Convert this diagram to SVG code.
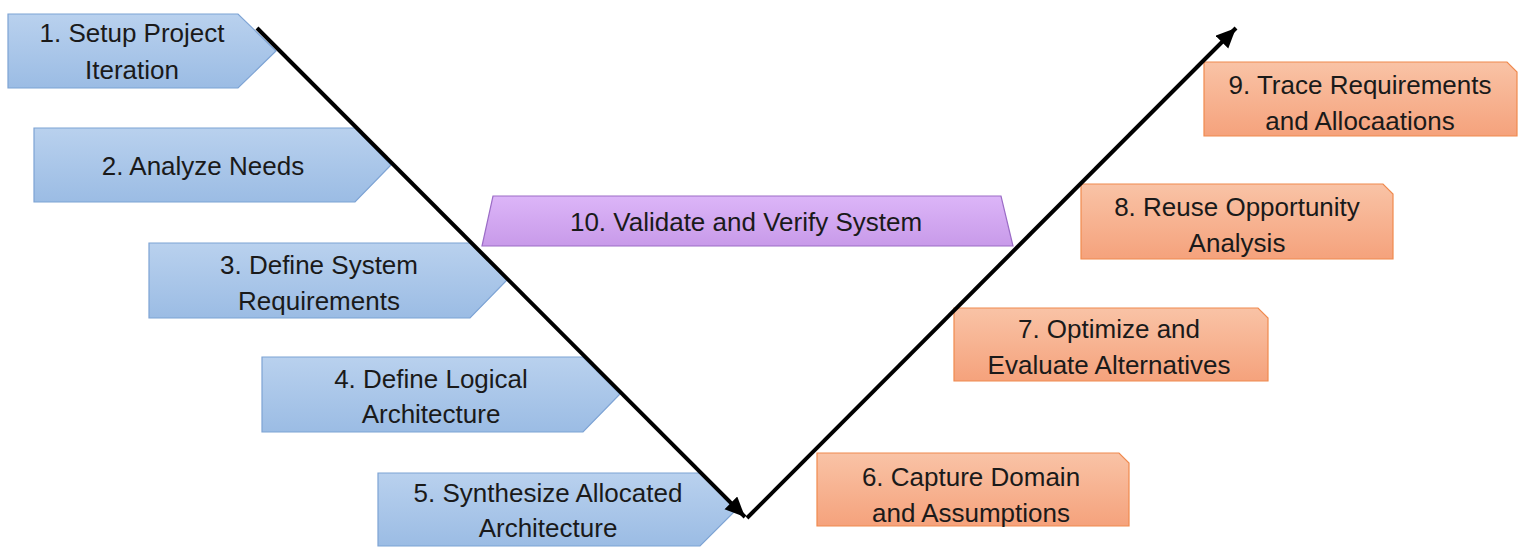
<svg xmlns="http://www.w3.org/2000/svg" width="1522" height="548" viewBox="0 0 1522 548">
  <defs>
    <linearGradient id="gBlue" x1="0" y1="0" x2="0" y2="1">
      <stop offset="0" stop-color="#b9d1ee"/>
      <stop offset="1" stop-color="#9bbce4"/>
    </linearGradient>
    <linearGradient id="gOrange" x1="0" y1="0" x2="0" y2="1">
      <stop offset="0" stop-color="#f9c3a6"/>
      <stop offset="1" stop-color="#f5a27c"/>
    </linearGradient>
    <linearGradient id="gPurple" x1="0" y1="0" x2="0" y2="1">
      <stop offset="0" stop-color="#dcb5f8"/>
      <stop offset="1" stop-color="#c89ae9"/>
    </linearGradient>
    <marker id="arrow" markerUnits="userSpaceOnUse" markerWidth="24" markerHeight="20" refX="20" refY="9" orient="auto">
      <path d="M0,0 L20,9 L0,18 Z" fill="#000"/>
    </marker>
  </defs>
  <style>
    .blue { fill: url(#gBlue); stroke: #7da3d4; stroke-width: 1.2; }
    .orange { fill: url(#gOrange); stroke: #f08a4e; stroke-width: 1.2; }
    .purple { fill: url(#gPurple); stroke: #9b6cc6; stroke-width: 1.2; }
    .lbl { font-family: "Liberation Sans", Arial, sans-serif; font-size: 26px; fill: #1a1a1a; text-anchor: middle; }
    .conn { fill: none; stroke: #000; stroke-width: 4; }
  </style>

  <rect width="1522" height="548" fill="#fff"/>

  <!-- left branch: decomposition steps -->
  <g id="n1">
    <path class="blue" d="M8,14 H238 L276,51 L238,88 H8 Z"/>
    <text class="lbl" x="132" y="42">1. Setup Project</text>
    <text class="lbl" x="132" y="79">Iteration</text>
  </g>
  <g id="n2">
    <path class="blue" d="M34,128 H355 L391,165 L355,202 H34 Z"/>
    <text class="lbl" x="203" y="175">2. Analyze Needs</text>
  </g>
  <g id="n3">
    <path class="blue" d="M149,243 H470 L507,280 L470,318 H149 Z"/>
    <text class="lbl" x="319" y="274">3. Define System</text>
    <text class="lbl" x="319" y="310">Requirements</text>
  </g>
  <g id="n4">
    <path class="blue" d="M262,357 H583 L620,394 L583,432 H262 Z"/>
    <text class="lbl" x="431" y="388">4. Define Logical</text>
    <text class="lbl" x="431" y="423">Architecture</text>
  </g>
  <g id="n5">
    <path class="blue" d="M378,473 H700 L737,509 L700,546 H378 Z"/>
    <text class="lbl" x="548" y="502">5. Synthesize Allocated</text>
    <text class="lbl" x="548" y="537">Architecture</text>
  </g>

  <!-- validation bar -->
  <g id="n10">
    <path class="purple" d="M493,196 H1001 L1013,246 H482 Z"/>
    <text class="lbl" x="746" y="231">10. Validate and Verify System</text>
  </g>

  <!-- right branch: integration steps -->
  <g id="n6">
    <path class="orange" d="M817,453 H1119 L1129,463 V526 H817 Z"/>
    <text class="lbl" x="971" y="486">6. Capture Domain</text>
    <text class="lbl" x="971" y="522">and Assumptions</text>
  </g>
  <g id="n7">
    <path class="orange" d="M954,308 H1258 L1268,318 V381 H954 Z"/>
    <text class="lbl" x="1109" y="338">7. Optimize and</text>
    <text class="lbl" x="1109" y="374">Evaluate Alternatives</text>
  </g>
  <g id="n8">
    <path class="orange" d="M1081,184 H1383 L1393,194 V259 H1081 Z"/>
    <text class="lbl" x="1237" y="216">8. Reuse Opportunity</text>
    <text class="lbl" x="1237" y="252">Analysis</text>
  </g>
  <g id="n9">
    <path class="orange" d="M1204,62 H1507 L1517,72 V136 H1204 Z"/>
    <text class="lbl" x="1360" y="94">9. Trace Requirements</text>
    <text class="lbl" x="1360" y="130">and Allocaations</text>
  </g>

  <!-- V-shaped flow -->
  <g id="connectors">
    <line class="conn" x1="257" y1="28" x2="745" y2="517" marker-end="url(#arrow)"/>
    <line class="conn" x1="747" y1="518" x2="1236" y2="28" marker-end="url(#arrow)"/>
  </g>
</svg>
